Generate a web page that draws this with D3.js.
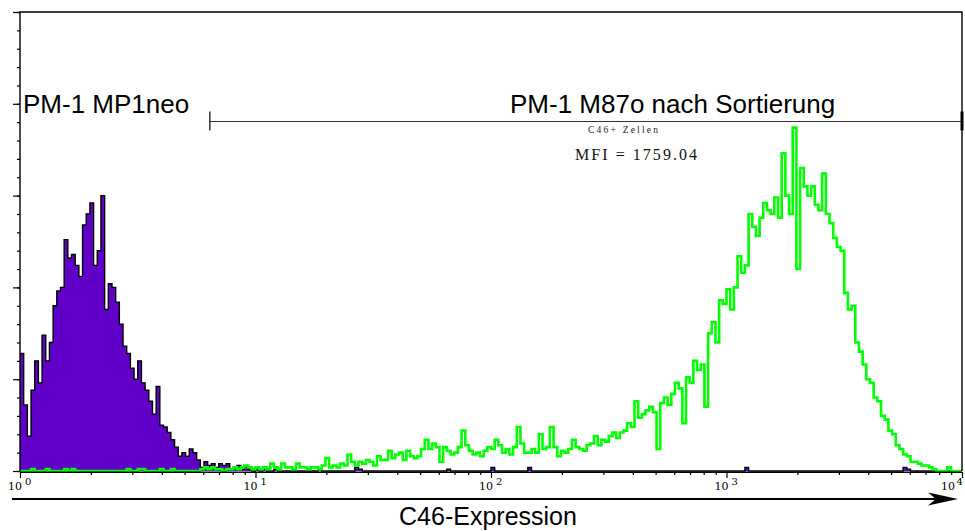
<!DOCTYPE html>
<html>
<head>
<meta charset="utf-8">
<script src="https://cdn.jsdelivr.net/npm/d3@7/dist/d3.min.js"></script>
<style>
  html, body { margin: 0; padding: 0; background: #fff; }
  svg { display: block; }
</style>
</head>
<body>
<svg id="chart" width="965" height="531"></svg>
<script>
// Flow cytometry histogram: C46 expression on a 4-decade log scale.
// Channels: 64 per decade, 256 in total (channel i spans 10^(i/64) .. 10^((i+1)/64)).
const binsPerDecade = 64;
const decadeExponents = [0, 1, 2, 3, 4];
const countTicksMajor = [0, 50, 100, 150, 200, 250];
const countTicksMinor = d3.range(0, 251, 10);

// PM-1 MP1neo (negative control), events per channel
const mp1neoCounts = [
  64, 36, 19, 44, 60, 48, 74, 60, 70, 90, 98, 100, 126, 116, 118, 112,
  106, 134, 140, 146, 112, 120, 150, 88, 102, 100, 92, 80, 68, 64, 56, 50,
  60, 48, 44, 38, 31, 46, 25, 24, 21, 17, 13, 8, 10, 8, 12, 10,
  6, 2, 5, 3, 4, 2, 4, 3, 4, 1, 2, 3, 1, 3, 1, 0,
  1, 0, 1, 0, 0, 1, 0, 0, 0, 0, 0, 0, 0, 0, 0, 0,
  0, 1, 0, 0, 0, 0, 0, 0, 0, 0, 0, 2, 1, 0, 0, 0,
  0, 0, 0, 0, 0, 0, 0, 0, 0, 0, 0, 0, 0, 0, 0, 0,
  0, 0, 0, 0, 1, 0, 0, 0, 0, 0, 0, 0, 0, 0, 0, 0,
  2, 0, 0, 0, 0, 0, 0, 0, 0, 0, 2, 0, 0, 0, 0, 0,
  0, 0, 0, 0, 0, 0, 0, 0, 0, 0, 0, 0, 0, 0, 0, 0,
  0, 0, 0, 0, 0, 0, 0, 0, 0, 0, 0, 0, 0, 0, 0, 0,
  0, 0, 0, 0, 0, 0, 0, 0, 0, 0, 0, 0, 0, 0, 0, 0,
  0, 0, 0, 0, 0, 2, 0, 0, 0, 0, 0, 0, 0, 0, 0, 0,
  0, 0, 0, 0, 0, 0, 0, 0, 0, 0, 0, 0, 0, 0, 0, 0,
  0, 0, 0, 0, 0, 0, 0, 0, 0, 0, 0, 0, 0, 0, 0, 0,
  2, 1, 0, 0, 0, 0, 0, 0, 0, 0, 0, 0, 0, 0, 0, 0
];

// PM-1 M87o after sorting (C46+ cells), events per channel
const m87oCounts = [
  0, 0, 0, 1, 0, 0, 0, 1, 0, 0, 0, 0, 1, 0, 1, 0,
  0, 0, 0, 0, 0, 0, 0, 0, 0, 0, 0, 0, 0, 1, 0, 0,
  1, 1, 0, 0, 0, 0, 1, 0, 0, 1, 0, 0, 0, 0, 0, 0,
  0, 1, 2, 1, 2, 1, 1, 0, 1, 1, 2, 1, 2, 3, 2, 1,
  2, 1, 2, 1, 4, 2, 1, 4, 2, 2, 1, 4, 2, 2, 1, 2,
  2, 1, 3, 7, 2, 3, 2, 4, 3, 9, 5, 3, 5, 4, 6, 5,
  3, 8, 6, 6, 11, 7, 9, 10, 6, 11, 8, 7, 8, 12, 17, 12,
  15, 13, 5, 13, 11, 9, 10, 13, 22, 14, 11, 9, 10, 8, 11, 13,
  12, 17, 14, 10, 12, 9, 13, 24, 15, 10, 10, 12, 10, 20, 12, 13,
  24, 13, 8, 11, 10, 12, 17, 13, 12, 11, 14, 15, 19, 14, 17, 16,
  19, 21, 18, 21, 22, 26, 24, 38, 29, 31, 33, 35, 32, 12, 37, 40,
  36, 42, 48, 45, 26, 51, 48, 60, 55, 58, 35, 75, 81, 70, 93, 91,
  99, 88, 100, 117, 108, 112, 140, 133, 128, 138, 146, 142, 140, 149, 138, 173,
  150, 140, 187, 110, 165, 155, 150, 155, 145, 142, 162, 140, 135, 127, 122, 120,
  97, 88, 90, 70, 65, 58, 50, 48, 40, 38, 30, 28, 22, 20, 14, 12,
  9, 8, 5, 5, 4, 3, 3, 2, 1, 0, 0, 0, 2, 0, 0, 0
];

const svg = d3.select("#chart");

const x = d3.scaleLog()
  .domain([1, Math.pow(10, decadeExponents[decadeExponents.length - 1])])
  .range([20, 962]);
const y = d3.scaleLinear().domain([0, 250]).range([471, 12]);

// step outline: one point at each channel's left edge, plus the final right edge
function toSteps(counts) {
  const pts = counts.map((c, i) => ({ v: Math.pow(10, i / binsPerDecade), c }));
  pts.push({ v: Math.pow(10, counts.length / binsPerDecade), c: counts[counts.length - 1] });
  return pts;
}

const area = d3.area()
  .x(d => x(d.v)).y0(y(0)).y1(d => y(d.c))
  .curve(d3.curveStepAfter);
const line = d3.line()
  .x(d => x(d.v)).y(d => y(d.c))
  .curve(d3.curveStepAfter);

const negSteps = toSteps(mp1neoCounts);
const posSteps = toSteps(m87oCounts);

// negative control: filled purple with black outline
svg.append("path")
  .attr("d", area(negSteps))
  .attr("fill", "#6000c8");
svg.append("path")
  .attr("d", line(negSteps))
  .attr("fill", "none")
  .attr("stroke", "#000")
  .attr("stroke-width", 1.4);

// sorted cells: green outline only
svg.append("path")
  .attr("d", line(posSteps))
  .attr("fill", "none")
  .attr("stroke", "#00ff00")
  .attr("stroke-width", 2.6)
  .attr("stroke-linejoin", "miter");

// frame (left, top, right)
const [x0, x1] = x.range();
const [yBottom, yTop] = y.range();
svg.append("path")
  .attr("d", d3.line()([[x0, yBottom], [x0, yTop], [x1, yTop], [x1, yBottom]]))
  .attr("fill", "none")
  .attr("stroke", "#000")
  .attr("stroke-width", 1.4);

// count axis ticks (no labels)
const yMinor = svg.append("g").attr("transform", `translate(${x0},0)`)
  .call(d3.axisLeft(y).tickValues(countTicksMinor).tickSize(3).tickFormat(""));
const yMajor = svg.append("g").attr("transform", `translate(${x0},0)`)
  .call(d3.axisLeft(y).tickValues(countTicksMajor).tickSize(7).tickFormat(""));
[yMinor, yMajor].forEach(g => {
  g.select(".domain").remove();
  g.selectAll("line").attr("stroke", "#000").attr("stroke-width", 1.2);
});

// log axis ticks
const minorVals = [];
decadeExponents.slice(0, -1).forEach(e => {
  for (let m = 2; m <= 9; m++) minorVals.push(m * Math.pow(10, e));
});
const majorVals = decadeExponents.map(e => Math.pow(10, e));
const xMinor = svg.append("g").attr("transform", `translate(0,${yBottom + 1})`)
  .call(d3.axisBottom(x).tickValues(minorVals).tickSize(3).tickFormat(""));
const xMajor = svg.append("g").attr("transform", `translate(0,${yBottom + 1})`)
  .call(d3.axisBottom(x).tickValues(majorVals).tickSize(6).tickFormat(""));
[xMinor, xMajor].forEach(g => {
  g.select(".domain").remove();
  g.selectAll("line").attr("stroke", "#000").attr("stroke-width", 1.2);
});
svg.append("line")
  .attr("x1", x0).attr("x2", x1)
  .attr("y1", yBottom + 1.3).attr("y2", yBottom + 1.3)
  .attr("stroke", "#000").attr("stroke-width", 1.6);

// decade labels: "10" with a raised exponent; the last one is tucked in at the edge
const decadeLabels = svg.append("g")
  .attr("font-family", "'DejaVu Serif', serif")
  .attr("fill", "#000");
decadeExponents.forEach((e, k) => {
  const px = x(Math.pow(10, e));
  const last = k === decadeExponents.length - 1;
  const baseEnd = last ? px - 7 : px + 2;
  decadeLabels.append("text")
    .attr("x", baseEnd).attr("y", yBottom + 19)
    .attr("text-anchor", "end")
    .attr("font-size", 11)
    .text("10");
  decadeLabels.append("text")
    .attr("x", baseEnd + (last ? 1.5 : 3)).attr("y", yBottom + 14)
    .attr("font-size", 10)
    .text(String(e));
});

// x axis title arrow
const arrowY = 499;
svg.append("line")
  .attr("x1", 12).attr("x2", x1 - 10)
  .attr("y1", arrowY).attr("y2", arrowY)
  .attr("stroke", "#000").attr("stroke-width", 2);
svg.append("path")
  .attr("d", d3.line()([
    [x1 - 4, arrowY], [x1 - 34, arrowY - 6.5], [x1 - 26, arrowY], [x1 - 34, arrowY + 6.5]
  ]) + "Z")
  .attr("fill", "#000");

svg.append("text")
  .attr("x", 488).attr("y", 525)
  .attr("text-anchor", "middle")
  .attr("font-family", "'Liberation Sans', Arial, sans-serif")
  .attr("font-size", 25)
  .attr("fill", "#000")
  .text("C46-Expression");

// sample labels
svg.append("text")
  .attr("x", 23).attr("y", 113)
  .attr("font-family", "'Liberation Sans', Arial, sans-serif")
  .attr("font-size", 26)
  .attr("fill", "#000")
  .text("PM-1 MP1neo");
svg.append("text")
  .attr("x", 510).attr("y", 113)
  .attr("font-family", "'Liberation Sans', Arial, sans-serif")
  .attr("font-size", 26)
  .attr("fill", "#000")
  .text("PM-1 M87o nach Sortierung");

// gate marker for C46+ cells
const gateStart = 6.4;
const gateY = 121.5;
const gate = svg.append("g").attr("stroke", "#333");
gate.append("line")
  .attr("x1", x(gateStart)).attr("x2", x1)
  .attr("y1", gateY).attr("y2", gateY)
  .attr("stroke-width", 1.2);
gate.append("line")
  .attr("x1", x(gateStart)).attr("x2", x(gateStart))
  .attr("y1", gateY - 10).attr("y2", gateY + 9)
  .attr("stroke-width", 1.5);
gate.append("line")
  .attr("x1", x1).attr("x2", x1)
  .attr("y1", gateY - 10).attr("y2", gateY + 9)
  .attr("stroke", "#000")
  .attr("stroke-width", 3);

svg.append("text")
  .attr("x", 588).attr("y", 133)
  .attr("font-family", "'Liberation Serif', 'Times New Roman', serif")
  .attr("font-size", 9.5)
  .attr("textLength", 70)
  .attr("fill", "#222")
  .text("C46+ Zellen");
svg.append("text")
  .attr("x", 575).attr("y", 160)
  .attr("font-family", "'Liberation Serif', 'Times New Roman', serif")
  .attr("font-size", 16)
  .attr("textLength", 122)
  .attr("fill", "#111")
  .text("MFI = 1759.04");
</script>
</body>
</html>
